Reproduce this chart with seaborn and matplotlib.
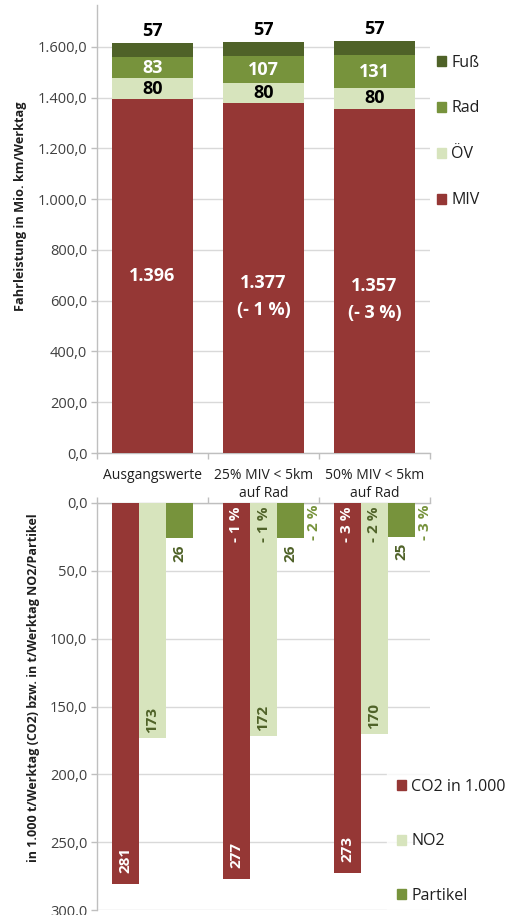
import matplotlib
matplotlib.use("Agg")
import matplotlib.pyplot as plt
from matplotlib.patches import Patch
from matplotlib.ticker import FuncFormatter, FixedLocator, MultipleLocator
import pandas as pd
import seaborn as sns

# ---------------------------------------------------------------- data
scenarios = ["Ausgangswerte", "25% MIV < 5km\nauf Rad", "50% MIV < 5km\nauf Rad"]

miv = [1396, 1377, 1357]
oev = [80, 80, 80]
rad = [83, 107, 131]
fuss = [57, 57, 57]
miv_change = ["", "(- 1 %)", "(- 3 %)"]

co2 = [281, 277, 273]
no2 = [173, 172, 170]
partikel = [26, 26, 25]
co2_change = ["", "- 1 %", "- 3 %"]
no2_change = ["", "- 1 %", "- 2 %"]
partikel_change = ["", "- 2 %", "- 3 %"]

# ---------------------------------------------------------------- style
C_MIV = "#953735"
C_OEV = "#D7E4BD"
C_RAD = "#77933C"
C_FUSS = "#4F6228"
C_TXT_GREEN = "#4F6228"
GRID = "#D9D9D9"
AXIS = "#BFBFBF"
TICKTXT = "#404040"
TXT = "#1F1F1F"

sns.set_theme(style="white")
plt.rcParams["font.family"] = ["Open Sans", "DejaVu Sans"]

W, H = 523, 915
fig = plt.figure(figsize=(W / 100, H / 100), dpi=100)


def px_axes(left, top, right, bottom):
    return fig.add_axes([left / W, 1 - bottom / H, (right - left) / W, (bottom - top) / H])


def de_num(v, _=None):
    s = f"{v:,.1f}"
    return s.replace(",", "X").replace(".", ",").replace("X", ".")


def de_int(v):
    return f"{v:,}".replace(",", ".")


# ======================================================== upper chart
ax1 = px_axes(97, 5, 430, 453)

df_top = pd.DataFrame({"Szenario": scenarios, "MIV": miv, "ÖV": oev, "Rad": rad, "Fuß": fuss})
df_top["c_MIV"] = df_top["MIV"]
df_top["c_ÖV"] = df_top["c_MIV"] + df_top["ÖV"]
df_top["c_Rad"] = df_top["c_ÖV"] + df_top["Rad"]
df_top["c_Fuß"] = df_top["c_Rad"] + df_top["Fuß"]

layer_colors = {"Fuß": C_FUSS, "Rad": C_RAD, "ÖV": C_OEV, "MIV": C_MIV}
for name in ["Fuß", "Rad", "ÖV", "MIV"]:
    sns.barplot(data=df_top, x="Szenario", y=f"c_{name}", color=layer_colors[name],
                width=0.73, saturation=1, linewidth=0, ax=ax1, zorder=3)

ax1.set_xlim(-0.5, 2.5)
ax1.set_ylim(0, 1765)
ax1.yaxis.set_major_locator(MultipleLocator(200))
ax1.yaxis.set_major_formatter(FuncFormatter(de_num))
ax1.grid(axis="y", color=GRID, linewidth=1, zorder=0)
ax1.set_axisbelow(True)
for side in ["top", "right"]:
    ax1.spines[side].set_visible(False)
for side in ["left", "bottom"]:
    ax1.spines[side].set_color(AXIS)
    ax1.spines[side].set_linewidth(1)
ax1.tick_params(axis="y", which="major", length=4, width=1, color=AXIS, direction="out",
                labelsize=10.5, labelcolor=TICKTXT, pad=3, left=True)
ax1.xaxis.set_minor_locator(FixedLocator([-0.5, 0.5, 1.5, 2.5]))
ax1.tick_params(axis="x", which="minor", length=4, width=1, color=AXIS, direction="out", bottom=True)
ax1.tick_params(axis="x", which="major", length=0, labelsize=10, labelcolor=TXT, pad=10.5)
for lbl in ax1.get_xticklabels():
    lbl.set_linespacing(1.3)
ax1.set_xlabel("")
ax1.set_ylabel("")

# segment labels
for i in range(len(scenarios)):
    total = miv[i] + oev[i] + rad[i] + fuss[i]
    ax1.annotate(str(fuss[i]), (i, total), xytext=(0, 3), textcoords="offset pixels",
                 ha="center", va="bottom", fontsize=13, fontweight="bold", color="black")
    ax1.text(i, miv[i] + oev[i] + rad[i] / 2, str(rad[i]), ha="center", va="center",
             fontsize=13, fontweight="bold", color="white")
    ax1.text(i, miv[i] + oev[i] / 2, str(oev[i]), ha="center", va="center",
             fontsize=13, fontweight="bold", color="black")
    dy = 0 if not miv_change[i] else -5
    ax1.annotate(de_int(miv[i]), (i, miv[i] / 2), xytext=(0, dy), textcoords="offset pixels",
                 ha="center", va="center", fontsize=13, fontweight="bold", color="white")
    if miv_change[i]:
        ax1.annotate(miv_change[i], (i, miv[i] / 2), xytext=(0, -32), textcoords="offset pixels",
                     ha="center", va="center", fontsize=13, fontweight="bold", color="white")

leg1 = fig.legend(handles=[Patch(color=layer_colors[n], label=n) for n in ["Fuß", "Rad", "ÖV", "MIV"]],
                  loc="upper left", bbox_to_anchor=(419 / W, 1 - 37 / H), frameon=False,
                  fontsize=11.5, handlelength=0.58, handleheight=0.58, handletextpad=0.35,
                  labelspacing=1.87, borderpad=0.6, labelcolor=TXT)

fig.text(21 / W, 1 - 206 / H, "Fahrleistung in Mio. km/Werktag", rotation=90,
         ha="center", va="center", fontsize=9.2, fontweight="bold", color=TXT)

# ======================================================== lower chart
ax2 = px_axes(97, 503, 430, 910)

df_em = pd.DataFrame({
    "Szenario": scenarios * 3,
    "Schadstoff": ["CO2 in 1.000"] * 3 + ["NO2"] * 3 + ["Partikel"] * 3,
    "Wert": co2 + no2 + partikel,
})
em_colors = {"CO2 in 1.000": C_MIV, "NO2": C_OEV, "Partikel": C_RAD}
sns.barplot(data=df_em, x="Szenario", y="Wert", hue="Schadstoff", palette=em_colors,
            width=0.73, gap=0, saturation=1, linewidth=0, dodge=True, legend=False,
            ax=ax2, zorder=3)

ax2.set_xlim(-0.5, 2.5)
ax2.set_ylim(300, 0)
ax2.yaxis.set_major_locator(MultipleLocator(50))
ax2.yaxis.set_major_formatter(FuncFormatter(de_num))
ax2.grid(axis="y", color=GRID, linewidth=1, zorder=0)
ax2.set_axisbelow(True)
for side in ["right", "bottom"]:
    ax2.spines[side].set_visible(False)
for side in ["left", "top"]:
    ax2.spines[side].set_color(AXIS)
    ax2.spines[side].set_linewidth(1)
ax2.tick_params(axis="y", which="major", length=4, width=1, color=AXIS, direction="out",
                labelsize=10.5, labelcolor=TICKTXT, pad=3, left=True)
ax2.xaxis.set_ticks_position("top")
ax2.xaxis.set_minor_locator(FixedLocator([-0.5, 0.5, 1.5, 2.5]))
ax2.tick_params(axis="x", which="minor", length=4, width=1, color=AXIS, direction="out", top=True)
ax2.tick_params(axis="x", which="major", length=0, labeltop=False, labelbottom=False)
ax2.set_xlabel("")
ax2.set_ylabel("")

series = [
    (co2, co2_change, "white", "white", "inside", "inside"),
    (no2, no2_change, C_TXT_GREEN, C_TXT_GREEN, "inside", "inside"),
    (partikel, partikel_change, C_TXT_GREEN, C_RAD, "outside", "right"),
]
LBL = 11
for container, (vals, changes, vcol, ccol, vpos, cpos) in zip(ax2.containers, series):
    for bar, v, ch in zip(container.patches, vals, changes):
        xc = bar.get_x() + bar.get_width() / 2
        if vpos == "inside":
            off = 11 if vcol == "white" else 5
            ax2.annotate(str(v), (xc, v), xytext=(0, off), textcoords="offset pixels",
                         rotation=90, ha="center", va="bottom", fontsize=LBL,
                         fontweight="bold", color=vcol, zorder=5)
        else:
            ax2.annotate(str(v), (xc, v), xytext=(0, -6), textcoords="offset pixels",
                         rotation=90, ha="center", va="top", fontsize=LBL,
                         fontweight="bold", color=vcol, zorder=5)
        if ch:
            if cpos == "inside":
                ax2.annotate(ch, (xc, 0), xytext=(0, -4), textcoords="offset pixels",
                             rotation=90, ha="center", va="top", fontsize=LBL,
                             fontweight="bold", color=ccol, zorder=5)
            else:
                xr = bar.get_x() + bar.get_width()
                ax2.annotate(ch, (xr, 0), xytext=(10, -1), textcoords="offset pixels",
                             rotation=90, ha="center", va="top", fontsize=LBL,
                             fontweight="bold", color=ccol, zorder=5)

leg2 = fig.legend(handles=[Patch(color=em_colors[n], label=n) for n in ["CO2 in 1.000", "NO2", "Partikel"]],
                  loc="upper left", bbox_to_anchor=(379 / W, 1 - 761 / H), frameon=True,
                  fontsize=11.5, handlelength=0.58, handleheight=0.58, handletextpad=0.35,
                  labelspacing=2.42, borderpad=0.6, labelcolor=TXT)
leg2.get_frame().set_facecolor("white")
leg2.get_frame().set_edgecolor("white")
leg2.get_frame().set_boxstyle("square", pad=0)

fig.text(34 / W, 1 - 688 / H, "in 1.000 t/Werktag (CO2) bzw. in t/Werktag NO2/Partikel", rotation=90,
         ha="center", va="center", fontsize=9.0, fontweight="bold", color=TXT)

fig.savefig("out.png", dpi=100)
